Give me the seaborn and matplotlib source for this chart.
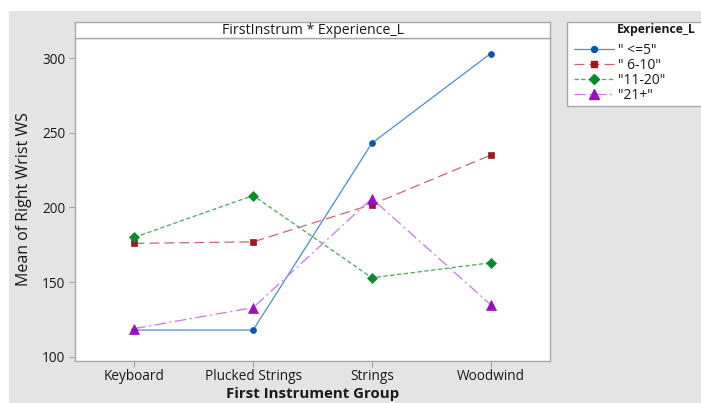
import matplotlib
matplotlib.use("Agg")
import matplotlib.pyplot as plt
from matplotlib.lines import Line2D
from matplotlib.patches import Rectangle
import seaborn as sns
import pandas as pd

# Mean right-wrist WS by first instrument group and experience level
instruments = ["Keyboard", "Plucked Strings", "Strings", "Woodwind"]
experience_levels = ['" <=5"', '" 6-10"', '"11-20"', '"21+"']
mean_le5 = [118, 118, 243, 303]
mean_6_10 = [176, 177, 202, 235]
mean_11_20 = [180, 208, 153, 163]
mean_21plus = [119, 133, 206, 135]
y_ticks = [100, 150, 200, 250, 300]

rows = []
for level, vals in zip(experience_levels, [mean_le5, mean_6_10, mean_11_20, mean_21plus]):
    for inst, v in zip(instruments, vals):
        rows.append({"FirstInstrum": inst, "Experience_L": level, "Mean": v})
df = pd.DataFrame(rows)

marker_colors = ["#0a56a8", "#9a1a1a", "#0a8a2a", "#9a10c0"]
line_colors = ["#4f8cca", "#c46a6a", "#4aa85a", "#c47ae0"]
markers = ["o", "s", "D", "^"]
marker_sizes = [4.3, 5.0, 4.8, 7.2]
dashes = [(1, 0), (8, 4), (3.5, 2), (9, 3, 1.5, 3)]

sns.set_theme(style="white")
plt.rcParams["font.family"] = ["Open Sans", "DejaVu Sans"]

fig = plt.figure(figsize=(7.01, 4.03), dpi=100)
fig.patch.set_facecolor("white")
W, H = 701, 403
# grey canvas behind the chart
fig.patches.append(Rectangle((9 / W, 0), 1, 1 - 11 / H, transform=fig.transFigure,
                             facecolor="#e4e4e4", edgecolor="none", zorder=-10))

ax = fig.add_axes([75 / W, 42 / H, 475 / W, (361 - 38) / H])
ax.set_facecolor("white")

sns.lineplot(data=df, x="FirstInstrum", y="Mean", hue="Experience_L",
             style="Experience_L", hue_order=experience_levels, style_order=experience_levels,
             palette=marker_colors, markers=markers, dashes=dashes, ax=ax,
             legend=False, linewidth=0.9, sort=False)

for line, lc, mc, ms in zip(ax.get_lines(), line_colors, marker_colors, marker_sizes):
    line.set_color(lc)
    line.set_markerfacecolor(mc)
    line.set_markeredgecolor(mc)
    line.set_markeredgewidth(0.5)
    line.set_markersize(ms)

ax.set_xlim(-0.5, 3.5)
ax.set_ylim(97.3, 313.4)
ax.set_yticks(y_ticks)
ax.set_xticks(range(len(instruments)))
ax.set_xticklabels(instruments)
ax.tick_params(axis="both", which="both", length=4, width=0.8, color="#a0a0a0",
               labelsize=9.8, labelcolor="#1a1a1a", pad=3, left=True, bottom=True)
ax.tick_params(axis="x", pad=2)
for s in ax.spines.values():
    s.set_color("#a8a8a8")
    s.set_linewidth(1.0)
ax.set_xlabel("First Instrument Group", fontsize=10.8, fontweight="bold",
              color="#1a1a1a", labelpad=2)
ax.set_ylabel("Mean of Right Wrist WS", fontsize=11.5, color="#1a1a1a", labelpad=7)

# strip header above the plotting area
strip = fig.add_axes([75 / W, (403 - 38) / H, 475 / W, 16 / H])
strip.set_facecolor("white")
strip.set_xticks([])
strip.set_yticks([])
for s in strip.spines.values():
    s.set_color("#a8a8a8")
    s.set_linewidth(1.0)
strip.text(0.5, 0.45, "FirstInstrum * Experience_L", ha="center", va="center",
           fontsize=10.2, color="#1a1a1a", transform=strip.transAxes)

# legend panel
fig.patches.append(Rectangle((567 / W, (403 - 106) / H), 140 / W, 84 / H,
                             transform=fig.transFigure, facecolor="white",
                             edgecolor="#a8a8a8", linewidth=1.0, zorder=1))
fig.text(617 / W, (403 - 30) / H, "Experience_L", fontsize=8.8, fontweight="bold",
         color="#1a1a1a", va="center", ha="left", zorder=3)
handles = []
for lc, mc, m, ms, d in zip(line_colors, marker_colors, markers, marker_sizes, dashes):
    h = Line2D([0], [0], color=lc, lw=0.9, marker=m, markersize=ms,
               markerfacecolor=mc, markeredgecolor=mc)
    if d != (1, 0):
        h.set_dashes(d)
    handles.append(h)
leg = fig.legend(handles, experience_levels, loc="upper left",
                 bbox_to_anchor=(564 / W, (403 - 33) / H), frameon=False,
                 fontsize=10, handlelength=2.9, handletextpad=0.3,
                 labelspacing=0.0, borderpad=0.2)
for t in leg.get_texts():
    t.set_color("#1a1a1a")
leg.set_zorder(3)

fig.savefig("out.png", dpi=100, facecolor=fig.get_facecolor())
